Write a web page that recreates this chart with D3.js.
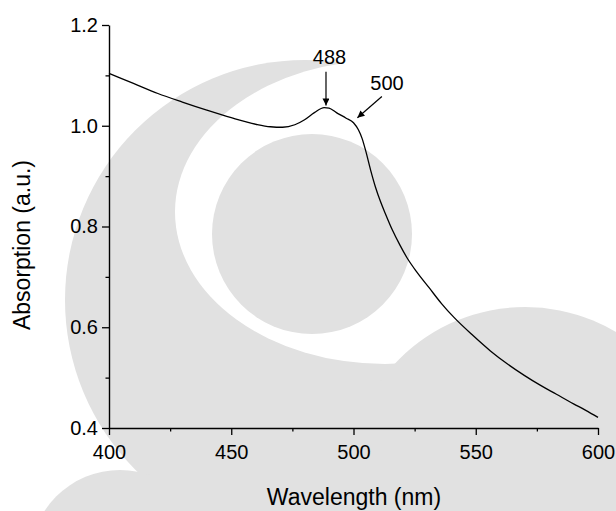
<!DOCTYPE html>
<meta charset="utf-8">
<script src="https://d3js.org/d3.v7.min.js"></script>
<style>
  body { margin: 0; background: #fff; }
  text { font-family: "Liberation Sans", Arial, sans-serif; fill: #000; }
</style>
<body>
<svg width="616" height="511"></svg>
<script>
    // spectrum
    var wavelength = [400, 410, 420, 430, 440, 450, 460, 466, 471, 476, 480, 484, 488, 490, 493, 497, 500,
                      502, 503.5, 505, 507, 509, 511, 513, 516, 519, 522, 526, 531, 536, 541, 549, 556, 563,
                      570, 576, 583, 590, 595, 600];
    var absorption = [1.104, 1.084, 1.064, 1.047, 1.031, 1.016, 1.003, 0.998, 0.997, 1.002, 1.012, 1.026, 1.036, 1.035, 1.026, 1.015, 1.006,
                      0.992, 0.975, 0.950, 0.912, 0.878, 0.850, 0.826, 0.792, 0.763, 0.737, 0.709, 0.678, 0.647, 0.620, 0.583, 0.553, 0.527,
                      0.504, 0.486, 0.467, 0.448, 0.435, 0.421];
    var xTicks = [400, 450, 500, 550, 600];
    var xMinor = [425, 475, 525, 575];
    var yTicks = [0.4, 0.6, 0.8, 1.0, 1.2];
    var yMinor = [0.5, 0.7, 0.9, 1.1];
    var peakLabels = ['488', '500'];
    var labelAt = [[490.2, 1.1226], [513.7, 1.071]];
    var arrowFrom = [[488.75, 1.107], [511.6, 1.058]];
    var arrowTo = [[488.75, 1.040], [501.6, 1.016]];

    var svg = d3.select('svg');

    // faint logo watermark behind the plot
    var wm = svg.append('g');
    var grey = '#e1e1e1';
    wm.append('circle').attr('cx', 305).attr('cy', 300).attr('r', 240).attr('fill', grey);
    wm.append('ellipse').attr('cx', 385).attr('cy', 212).attr('rx', 210).attr('ry', 152).attr('fill', '#fff');
    wm.append('circle').attr('cx', 525).attr('cy', 485).attr('r', 178).attr('fill', grey);
    wm.append('circle').attr('cx', 312).attr('cy', 234).attr('r', 100).attr('fill', grey);
    wm.append('circle').attr('cx', 120).attr('cy', 560).attr('r', 90).attr('fill', grey);

    var x = d3.scaleLinear().domain([400, 600]).range([109, 598]);
    var y = d3.scaleLinear().domain([0.4, 1.2]).range([428, 25]);

    svg.append('g').attr('transform', 'translate(0,428)')
        .call(d3.axisBottom(x).tickValues(xTicks).tickSize(7).tickSizeOuter(0).tickPadding(10).tickFormat(d3.format('d')));
    svg.append('g').attr('transform', 'translate(0,428)')
        .call(d3.axisBottom(x).tickValues(xMinor).tickSize(3.5).tickSizeOuter(0).tickFormat(''))
        .select('.domain').remove();

    svg.append('g').attr('transform', 'translate(109,0)')
        .call(d3.axisLeft(y).tickValues(yTicks).tickSize(7).tickSizeOuter(0).tickPadding(4).tickFormat(d3.format('.1f')));
    svg.append('g').attr('transform', 'translate(109,0)')
        .call(d3.axisLeft(y).tickValues(yMinor).tickSize(3.5).tickSizeOuter(0).tickFormat(''))
        .select('.domain').remove();

    svg.selectAll('.domain').attr('stroke', '#000').attr('stroke-width', 1.4);
    svg.selectAll('.tick line').attr('stroke', '#000').attr('stroke-width', 1.3);
    svg.selectAll('.tick text').style('font-size', '20px').attr('fill', '#000');

    var pts = wavelength.map(function(w, i){ return [w, absorption[i]]; });
    var line = d3.line()
        .x(function(d){ return x(d[0]); })
        .y(function(d){ return y(d[1]); })
        .curve(d3.curveMonotoneX);

    svg.append('path').datum(pts)
        .attr('fill', 'none')
        .attr('stroke', '#000')
        .attr('stroke-width', 1.3)
        .attr('d', line);

    svg.append('defs').append('marker')
        .attr('id', 'head')
        .attr('viewBox', '0 0 10 10')
        .attr('refX', 10).attr('refY', 5)
        .attr('markerWidth', 8).attr('markerHeight', 7)
        .attr('markerUnits', 'userSpaceOnUse')
        .attr('orient', 'auto')
        .append('path').attr('d', 'M0,0L10,5L0,10Z').attr('fill', '#000');

    peakLabels.forEach(function(t, i){
        svg.append('line')
            .attr('x1', x(arrowFrom[i][0])).attr('y1', y(arrowFrom[i][1]))
            .attr('x2', x(arrowTo[i][0])).attr('y2', y(arrowTo[i][1]))
            .attr('stroke', '#000').attr('stroke-width', 1.2)
            .attr('marker-end', 'url(#head)');
        svg.append('text')
            .attr('x', x(labelAt[i][0])).attr('y', y(labelAt[i][1]))
            .attr('text-anchor', 'middle')
            .style('font-size', '20px')
            .text(t);
    });

    svg.append('text')
        .attr('x', 354).attr('y', 505)
        .attr('text-anchor', 'middle')
        .style('font-size', '23px')
        .text('Wavelength (nm)');

    svg.append('text')
        .attr('transform', 'translate(30,245) rotate(-90)')
        .attr('text-anchor', 'middle')
        .style('font-size', '23px')
        .text('Absorption (a.u.)');
</script>
</body>
